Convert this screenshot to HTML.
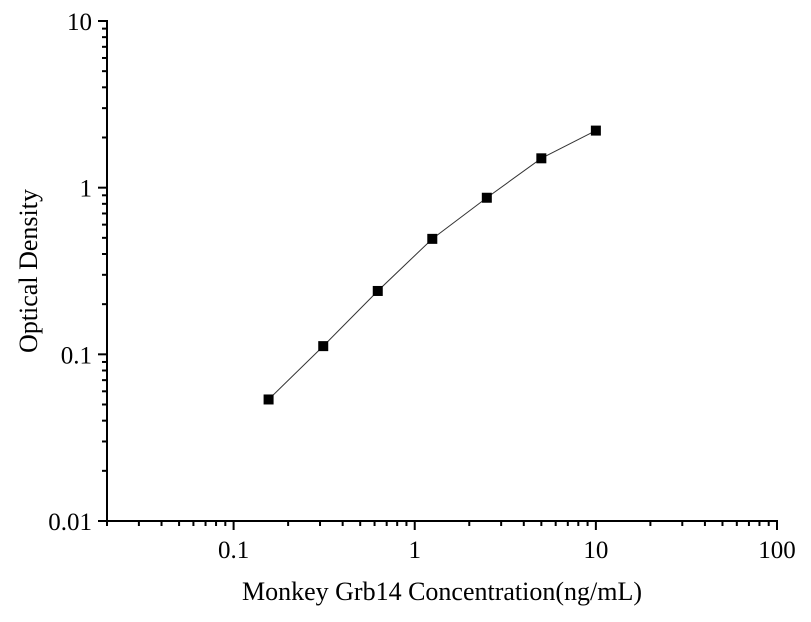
<!DOCTYPE html>
<html><head><meta charset="utf-8"><style>body{margin:0;background:#fff}svg{display:block}text{font-family:"Liberation Serif",serif;fill:#000}</style></head>
<body>
<svg id="chart" width="811" height="622" xmlns="http://www.w3.org/2000/svg"></svg>
<script>
const concentrations=[0.156,0.3125,0.625,1.25,2.5,5,10];
const odValues=[0.0536,0.112,0.240,0.493,0.87,1.5,2.2];
const xTickLabels=["0.1","1","10","100"];
const yTickLabels=["0.01","0.1","1","10"];
const NS="http://www.w3.org/2000/svg";
const svg=document.getElementById('chart');
const X0=107,X1=777,Y0=521,Y1=21;
const xMin=Math.log10(0.02),xMax=2,yMin=-2,yMax=1;
const sx=v=>X0+(Math.log10(v)-xMin)/(xMax-xMin)*(X1-X0);
const sy=v=>Y0-(Math.log10(v)-yMin)/(yMax-yMin)*(Y0-Y1);
function el(t,a,p){const e=document.createElementNS(NS,t);for(const k in a)e.setAttribute(k,a[k]);(p||svg).appendChild(e);return e;}
const ax=el('g',{});


el('line',{x1:98,y1:Y0,x2:X1+1,y2:Y0,stroke:'#000','stroke-width':2},ax);
el('line',{x1:X0,y1:Y0+1,x2:X0,y2:Y1-1,stroke:'#000','stroke-width':2},ax);
for(let d=-2;d<2;d++)for(let m=1;m<10;m++){const v=m*Math.pow(10,d);if(v<0.0199)continue;const x=sx(v);el('line',{x1:x,y1:Y0,x2:x,y2:Y0+(m==1?9:5),stroke:'#000','stroke-width':2},ax);}
el('line',{x1:X1,y1:Y0,x2:X1,y2:Y0+9,stroke:'#000','stroke-width':2},ax);
for(let d=-2;d<1;d++)for(let m=1;m<10;m++){const v=m*Math.pow(10,d);const y=sy(v);el('line',{x1:X0,y1:y,x2:X0-(m==1?9:5),y2:y,stroke:'#000','stroke-width':2},ax);}
el('line',{x1:X0,y1:Y1,x2:X0-9,y2:Y1,stroke:'#000','stroke-width':2},ax);
xTickLabels.forEach(s=>{const t=el('text',{x:sx(parseFloat(s)),y:558,'font-size':25,'text-anchor':'middle'});t.textContent=s;

});
yTickLabels.forEach(s=>{const t=el('text',{x:92,y:sy(parseFloat(s))+9,'font-size':25,'text-anchor':'end'});t.textContent=s;

});
const xt=el('text',{x:442,y:600,'font-size':26,'text-anchor':'middle'});xt.textContent='Monkey Grb14 Concentration(ng/mL)';


const yt=el('text',{x:0,y:0,'font-size':26,'text-anchor':'middle',transform:'translate(37,271) rotate(-90)'});yt.textContent='Optical Density';


const line=el('polyline',{points:concentrations.map((c,i)=>sx(c)+','+sy(odValues[i])).join(' '),fill:'none',stroke:'#333','stroke-width':1});


concentrations.forEach((c,i)=>{const r=el('rect',{x:sx(c)-5,y:sy(odValues[i])-5,width:10,height:10,fill:'#000'});

});
</script>
</body></html>
